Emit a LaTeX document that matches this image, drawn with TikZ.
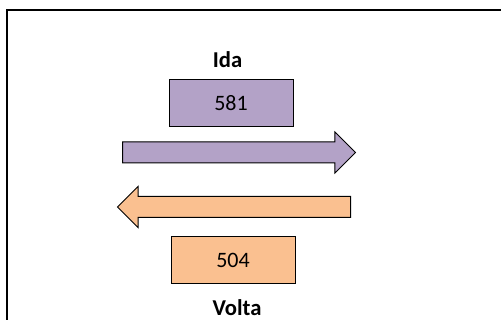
\documentclass[tikz,border=0pt]{standalone}
\usepackage{fontspec}
\setmainfont{Carlito}
\usetikzlibrary{shapes.arrows}
\definecolor{idafill}{HTML}{B3A2C7}
\definecolor{voltafill}{HTML}{FAC090}
\begin{document}
\begin{tikzpicture}[x=0.75pt, y=-0.75pt,
  every node/.style={align=center, font=\fontsize{16.5}{19}\selectfont},
  countbox/.style={draw, line width=0.75pt, minimum width=93pt, minimum height=35.25pt, inner sep=0pt},
  flowarrow/.style={single arrow, draw, line width=0.75pt, minimum height=174.75pt, inner sep=0pt, inner ysep=7.5pt, single arrow head extend=7.5pt, single arrow head indent=0pt},
  tag/.style={inner sep=0pt, font=\fontsize{17}{19}\selectfont\bfseries}]
\useasboundingbox (0,0) rectangle (501,320);
\fill[white] (0,0) rectangle (501,320);
\draw[line width=1.5pt] (7,330) -- (7,10.5);
\draw[line width=1.5pt] (6.2,10.5) -- (510,10.5);

\node[tag] at (227.5,59.5) (ida) {Ida};
\node[countbox, fill=idafill] at (231,103.5) (idacount) {581};
\node[flowarrow, fill=idafill, anchor=tail] at (122,152.5) (idaarrow) {};

\node[flowarrow, fill=voltafill, shape border rotate=180, anchor=tail] at (351,207) (voltaarrow) {};
\node[countbox, fill=voltafill] at (233,260.5) (voltacount) {504};
\node[tag] at (237,307.5) (volta) {Volta};
\end{tikzpicture}
\end{document}
